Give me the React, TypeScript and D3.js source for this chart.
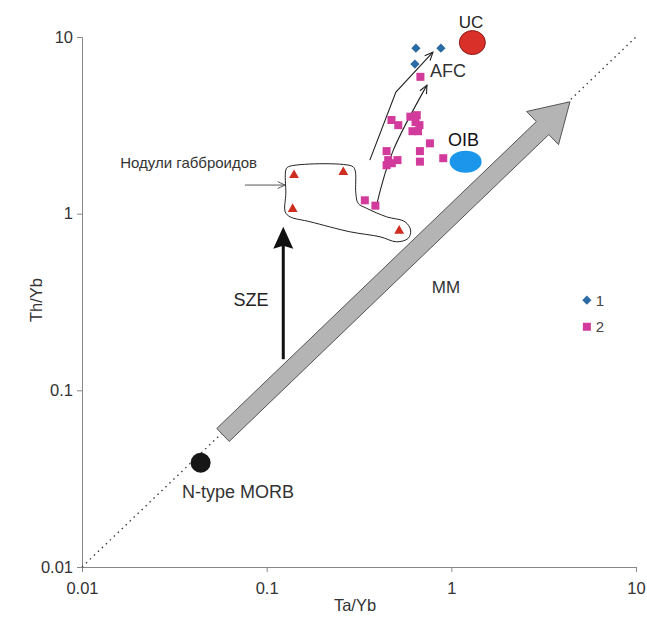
import React, { useEffect, useRef } from "react";
import * as d3 from "d3";

// Th/Yb vs Ta/Yb discrimination diagram (log-log)
const majorTicks = [0.01, 0.1, 1, 10];
const tickLabels = ["0.01", "0.1", "1", "10"];

// series 1 (blue diamonds)
const s1Ta = [0.643, 0.878, 0.635];
const s1Th = [8.65, 8.65, 7.03];

// series 2 (magenta squares)
const s2Ta = [0.68, 0.474, 0.516, 0.6, 0.65, 0.672, 0.616, 0.66, 0.64, 0.766, 0.446, 0.676, 0.455, 0.511, 0.446, 0.476, 0.676, 0.904, 0.34, 0.388];
const s2Th = [5.95, 3.39, 3.17, 3.54, 3.61, 3.17, 2.93, 2.93, 3.3, 2.5, 2.26, 2.26, 2.01, 2.01, 1.88, 1.93, 1.97, 2.06, 1.19, 1.11];

// gabbroid nodules (red triangles)
const nodTa = [0.1406, 0.26, 0.1383, 0.522];
const nodTh = [1.653, 1.719, 1.062, 0.8];

// reference compositions
const refNames = ["UC", "OIB", "N-type MORB"];
const refTa = [1.3, 1.195, 0.0439];
const refTh = [9.3, 1.97, 0.0389];

// hand-drawn outline around the nodules
const outlineTa = [0.131, 0.289, 0.301, 0.304, 0.313, 0.348, 0.446, 0.561, 0.602, 0.584, 0.506, 0.411, 0.282, 0.172, 0.134, 0.126, 0.127, 0.127];
const outlineTh = [1.843, 1.86, 1.765, 1.303, 1.144, 1.072, 0.96, 0.9, 0.807, 0.725, 0.693, 0.74, 0.79, 0.9, 0.96, 1.025, 1.303, 1.765];

// trend arrows
const afc1Ta = [0.362, 0.501, 0.795];
const afc1Th = [2.01, 4.88, 8.21];
const afc2Ta = [0.393, 0.485, 0.738];
const afc2Th = [1.111, 2.29, 5.34];
const mmTa = [0.058, 4.39];
const mmTh = [0.0559, 4.3];
const szeTa = [0.123, 0.123];
const szeTh = [0.15, 0.843];
const nodArrowTa = [0.0763, 0.1256];
const nodArrowTh = [1.452, 1.452];

// legend anchors
const legendTa = 5.42;
const legendLabelTa = 6.05;
const legendTh = [0.324, 0.229];

const FONT = "'Liberation Sans', Arial, sans-serif";

const x = d3.scaleLog().domain([0.01, 10]).range([82, 636]);
const y = d3.scaleLog().domain([0.01, 10]).range([567, 37]);

function openHead(p: [number, number], from: [number, number], len = 9, ang = 0.42) {
  const a = Math.atan2(p[1] - from[1], p[0] - from[0]);
  const l = [p[0] - len * Math.cos(a - ang), p[1] - len * Math.sin(a - ang)];
  const r = [p[0] - len * Math.cos(a + ang), p[1] - len * Math.sin(a + ang)];
  return `M${l[0]},${l[1]}L${p[0]},${p[1]}L${r[0]},${r[1]}`;
}

function blockArrow(tail: [number, number], tip: [number, number], hw: number, headW: number, headL: number) {
  const dx = tip[0] - tail[0], dy = tip[1] - tail[1];
  const L = Math.hypot(dx, dy);
  const ux = dx / L, uy = dy / L;
  const nx = -uy, ny = ux;
  const bx = tip[0] - ux * headL, by = tip[1] - uy * headL;
  const pts = [
    [tail[0] + nx * hw, tail[1] + ny * hw],
    [bx + nx * hw, by + ny * hw],
    [bx + nx * headW, by + ny * headW],
    tip,
    [bx - nx * headW, by - ny * headW],
    [bx - nx * hw, by - ny * hw],
    [tail[0] - nx * hw, tail[1] - ny * hw],
  ];
  return "M" + pts.map((p) => p.join(",")).join("L") + "Z";
}

export default function App() {
  const axRef = useRef<SVGGElement>(null);

  useEffect(() => {
    const g = d3.select(axRef.current);
    g.selectAll("*").remove();
    const minors: number[] = [];
    majorTicks.slice(0, 3).forEach((d) => {
      for (let k = 2; k <= 9; k++) minors.push(d * k);
    });

    const xa = g.append("g").attr("transform", "translate(0,567)");
    xa.call(d3.axisBottom(x).tickValues(minors).tickSize(3).tickFormat(() => ""));
    xa.call(
      d3.axisBottom(x).tickValues(majorTicks).tickSize(5).tickPadding(10)
        .tickFormat((d, i) => tickLabels[i])
    );
    const ya = g.append("g").attr("transform", "translate(82,0)");
    ya.call(d3.axisLeft(y).tickValues(minors).tickSize(3).tickFormat(() => ""));
    ya.call(
      d3.axisLeft(y).tickValues(majorTicks).tickSize(5).tickPadding(4)
        .tickFormat((d, i) => tickLabels[i])
    );
    g.selectAll(".domain").attr("stroke", "#888");
    g.selectAll(".tick line").attr("stroke", "#888");
    g.selectAll(".tick text")
      .attr("fill", "#333")
      .attr("font-size", 16.5)
      .attr("font-family", FONT);
  }, []);

  const line = d3.line<[number, number]>();
  const afc1: [number, number][] = afc1Ta.map((t, i) => [x(t), y(afc1Th[i])]);
  const afc2: [number, number][] = afc2Ta.map((t, i) => [x(t), y(afc2Th[i])]);
  const outline: [number, number][] = outlineTa.map((t, i) => [x(t), y(outlineTh[i])]);
  const nodA: [number, number][] = nodArrowTa.map((t, i) => [x(t), y(nodArrowTh[i])]);
  const sze: [number, number][] = szeTa.map((t, i) => [x(t), y(szeTh[i])]);
  const mm: [number, number][] = mmTa.map((t, i) => [x(t), y(mmTh[i])]);
  const tri = d3.symbol(d3.symbolTriangle, 42)();
  const dia = "M0,-4.6L4.6,0L0,4.6L-4.6,0Z";

  const txt = (s: string, tx: number, th: number, anchor: string, size: number, fill = "#222", dy = "0") => (
    <text x={x(tx)} y={y(th)} dy={dy} textAnchor={anchor} fontSize={size} fontFamily={FONT} fill={fill}>{s}</text>
  );

  return (
    <svg width={647} height={621} style={{ position: "absolute", left: 0, top: 0, background: "#fff" }}>
      <g ref={axRef} />
      {/* 1:1 line */}
      <line x1={x(0.01)} y1={y(0.01)} x2={x(10)} y2={y(10)} stroke="#333" strokeWidth={1.3} strokeDasharray="1.5,4" />

      {/* MM block arrow */}
      <path d={blockArrow(mm[0], mm[1], 9, 23, 38)} fill="#b4b4b4" stroke="#555" strokeWidth={1} />

      {/* SZE arrow */}
      <line x1={sze[0][0]} y1={sze[0][1]} x2={sze[1][0]} y2={sze[1][1] + 18} stroke="#111" strokeWidth={3} />
      <path d={`M${sze[1][0]},${sze[1][1]}L${sze[1][0] + 10},${sze[1][1] + 22}L${sze[1][0]},${sze[1][1] + 19}L${sze[1][0] - 10},${sze[1][1] + 22}Z`} fill="#111" />

      {/* nodule outline */}
      <path d={d3.line().curve(d3.curveCatmullRomClosed)(outline) || ""} fill="none" stroke="#222" strokeWidth={1} />

      {/* AFC trend arrows */}
      <path d={line(afc1) || ""} fill="none" stroke="#222" strokeWidth={1.1} />
      <path d={openHead(afc1[2], afc1[1])} fill="none" stroke="#222" strokeWidth={1.1} />
      <path d={d3.line().curve(d3.curveNatural)(afc2) || ""} fill="none" stroke="#222" strokeWidth={1.1} />
      <path d={openHead(afc2[2], afc2[1])} fill="none" stroke="#222" strokeWidth={1.1} />

      {/* nodule label arrow */}
      <path d={line(nodA) || ""} fill="none" stroke="#444" strokeWidth={0.9} />
      <path d={openHead(nodA[1], nodA[0], 8, 0.45)} fill="none" stroke="#444" strokeWidth={0.9} />

      {/* reference compositions */}
      <ellipse cx={x(refTa[0])} cy={y(refTh[0])} rx={13} ry={12} fill="#d9302a" stroke="#8a1a14" strokeWidth={1} />
      <ellipse cx={x(refTa[1])} cy={y(refTh[1])} rx={16} ry={11} fill="#1b96ea" />
      <circle cx={x(refTa[2])} cy={y(refTh[2])} r={10} fill="#161616" />

      {/* data */}
      {nodTa.map((t, i) => (
        <path key={"n" + i} d={tri || ""} transform={`translate(${x(t)},${y(nodTh[i])})`} fill="#cf2d1f" />
      ))}
      {s2Ta.map((t, i) => (
        <rect key={"s" + i} x={x(t) - 4} y={y(s2Th[i]) - 4} width={8} height={8} fill="#d23a9c" />
      ))}
      {s1Ta.map((t, i) => (
        <path key={"d" + i} d={dia} transform={`translate(${x(t)},${y(s1Th[i])})`} fill="#2c6aa5" />
      ))}

      {/* labels */}
      {txt(refNames[0], 1.28, 11.2, "middle", 17)}
      {txt(refNames[1], 0.958, 2.41, "start", 18, "#111")}
      {txt(refNames[2], 0.07, 0.0246, "middle", 18, "#333")}
      {txt("AFC", 0.766, 5.93, "start", 18, "#333")}
      {txt("MM", 0.935, 0.355, "middle", 17, "#333")}
      {txt("SZE", 0.0822, 0.3, "middle", 18, "#222")}
      {txt("Нодули габброидов", 0.0161, 1.81, "start", 15, "#333")}

      {/* legend */}
      <path d={dia} transform={`translate(${x(legendTa)},${y(legendTh[0])})`} fill="#2c6aa5" />
      {txt("1", legendLabelTa, legendTh[0], "start", 15, "#444", "0.36em")}
      <rect x={x(legendTa) - 4} y={y(legendTh[1]) - 4} width={8} height={8} fill="#d23a9c" />
      {txt("2", legendLabelTa, legendTh[1], "start", 15, "#444", "0.36em")}

      {/* axis titles */}
      <text x={355} y={611} textAnchor="middle" fontSize={16.5} fontFamily={FONT} fill="#333">Ta/Yb</text>
      <text transform="translate(42,300) rotate(-90)" textAnchor="middle" fontSize={16.5} fontFamily={FONT} fill="#333">Th/Yb</text>
    </svg>
  );
}
